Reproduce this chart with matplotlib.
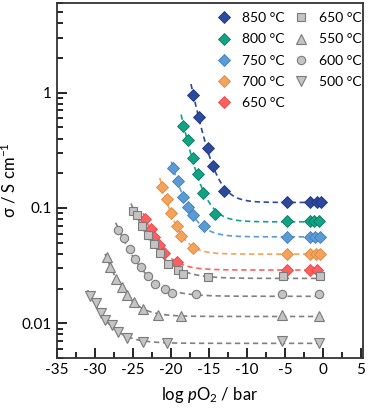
import numpy as np
import matplotlib
matplotlib.use('Agg')
import matplotlib.pyplot as plt

plt.rcParams['font.family'] = ['Lato', 'DejaVu Sans']
plt.rcParams['mathtext.fontset'] = 'custom'
plt.rcParams['mathtext.rm'] = 'Lato'
plt.rcParams['mathtext.it'] = 'Lato:italic'
plt.rcParams['axes.unicode_minus'] = False

# series: log pO2 (bar) and conductivity (S/cm)
x850 = [-17.1, -16.3, -15.1, -14.5, -13.0, -4.7, -1.7, -0.8, -0.3]
s850 = [0.96, 0.62, 0.33, 0.23, 0.14, 0.113, 0.113, 0.113, 0.113]
x800 = [-18.4, -17.8, -17.1, -16.4, -15.8, -14.2, -4.7, -1.7, -1.1, -0.5]
s800 = [0.516, 0.39, 0.27, 0.198, 0.135, 0.089, 0.077, 0.077, 0.077, 0.077]
x750 = [-19.7, -19.1, -18.4, -17.8, -17.1, -15.7, -4.7, -1.7, -1.05, -0.4]
s750 = [0.222, 0.172, 0.125, 0.102, 0.087, 0.070, 0.056, 0.056, 0.056, 0.056]
x700 = [-21.2, -20.5, -20.0, -19.2, -18.6, -17.1, -4.7, -1.7, -0.9, -0.4]
s700 = [0.152, 0.12, 0.09, 0.0697, 0.057, 0.045, 0.040, 0.040, 0.040, 0.040]
x650 = [-23.4, -22.6, -22.2, -21.6, -20.9, -19.2, -4.7, -1.7, -0.7]
s650 = [0.080, 0.066, 0.056, 0.048, 0.041, 0.034, 0.029, 0.029, 0.029]

x650b = [-25.0, -24.5, -23.8, -23.0, -22.2, -21.4, -20.4, -19.1, -18.4, -15.1, -5.3, -0.4]
s650b = [0.094, 0.087, 0.0697, 0.058, 0.0486, 0.0405, 0.033, 0.029, 0.0266, 0.025, 0.0255, 0.0255]
x600 = [-27.0, -26.2, -25.4, -24.7, -23.9, -23.0, -22.1, -20.8, -19.9, -16.7, -5.4, -0.5]
s600 = [0.0645, 0.055, 0.044, 0.036, 0.031, 0.0256, 0.0218, 0.0197, 0.0182, 0.0178, 0.0178, 0.0178]
x550 = [-28.4, -28.0, -27.2, -26.4, -25.8, -24.9, -23.7, -21.7, -18.6, -5.4, -0.5]
s550 = [0.0374, 0.0306, 0.0241, 0.0205, 0.0175, 0.0152, 0.0134, 0.0119, 0.0115, 0.0117, 0.0115]
x500 = [-30.7, -29.9, -29.2, -28.6, -27.8, -27.0, -25.8, -23.7, -20.5, -5.4, -0.5]
s500 = [0.0172, 0.0150, 0.0122, 0.0106, 0.0096, 0.0084, 0.0075, 0.0069, 0.0067, 0.0070, 0.0067]


def fit_curve(x, s):
    # sigma = a + b*10^(-k*x), least squares with relative weights
    x = np.array(x); s = np.array(s)
    best = None
    for k in np.linspace(0.05, 0.8, 151):
        A = np.vstack([np.ones_like(x), 10**(-k*x)]).T / s[:, None]
        coef, res, _, _ = np.linalg.lstsq(A, np.ones_like(s), rcond=None)
        err = np.sum((A @ coef - 1)**2)
        if best is None or err < best[0]:
            best = (err, k, coef)
    _, k, coef = best
    xx = np.linspace(x.min() - 0.25, 0, 200)
    return xx, coef[0] + coef[1]*10**(-k*xx)


fig = plt.figure(figsize=(3.69, 4.12), dpi=100)
ax = fig.add_axes([0.154, 0.131, 0.83, 0.862])

gray_f, gray_e = '#c4c4c4', '#7a7a7a'
colored = [(x850, s850, '#2c4a9c', '#1f3577', '850 °C'),
           (x800, s800, '#12a384', '#0c7a62', '800 °C'),
           (x750, s750, '#5b9bd5', '#3f7db5', '750 °C'),
           (x700, s700, '#f5a35a', '#d88a45', '700 °C'),
           (x650, s650, '#ff5f5f', '#e04848', '650 °C')]
grays = [(x650b, s650b, 's', 6, '650 °C'),
         (x550, s550, '^', 6.5, '550 °C'),
         (x600, s600, 'o', 6, '600 °C'),
         (x500, s500, 'v', 6.5, '500 °C')]

for x, s, c, ec, lab in colored:
    xx, yy = fit_curve(x, s)
    ax.plot(xx, yy, ls=(0, (3.2, 2.2)), color=c, lw=1.2, zorder=2)
for x, s, m, ms, lab in grays:
    xx, yy = fit_curve(x, s)
    ax.plot(xx, yy, ls=(0, (3.2, 2.2)), color='#808080', lw=1.2, zorder=2)

handles = []
for x, s, c, ec, lab in colored:
    h, = ax.plot(x, s, 'D', ms=6.5, mfc=c, mec=ec, mew=0.6, ls='none', label=lab, zorder=3)
    handles.append(h)
for x, s, m, ms, lab in grays:
    h, = ax.plot(x, s, m, ms=ms, mfc=gray_f, mec=gray_e, mew=0.8, ls='none', label=lab, zorder=4)
    handles.append(h)

ax.set_yscale('log')
ax.set_xlim(-35, 5.3)
ax.set_ylim(0.005, 6)
ax.set_xticks(np.arange(-35, 6, 5))
ax.set_xticks(np.arange(-35, 5.1, 2.5), minor=True)
ax.set_yticks([0.01, 0.1, 1])
ax.set_yticklabels(['0.01', '0.1', '1'])
ax.tick_params(which='both', direction='in', labelsize=11, top=False, right=False, width=1.2)
ax.tick_params(which='major', length=7)
ax.tick_params(which='minor', length=4)
for sp in ax.spines.values():
    sp.set_linewidth(1.3)
    sp.set_color('#333333')

ax.set_xlabel('log $p$O$_2$ / bar', fontsize=12, labelpad=6)
ax.set_ylabel('σ / S cm$^{-1}$', fontsize=12, labelpad=2)

leg = ax.legend(handles=handles, ncol=2, loc='upper right', bbox_to_anchor=(0.9958, 0.974),
                frameon=False, fontsize=10, handlelength=1.0, handletextpad=0.82,
                columnspacing=0.64, labelspacing=0.67, borderpad=0, borderaxespad=0)
leg.set_zorder(10)

fig.savefig('out.png', dpi=100)
